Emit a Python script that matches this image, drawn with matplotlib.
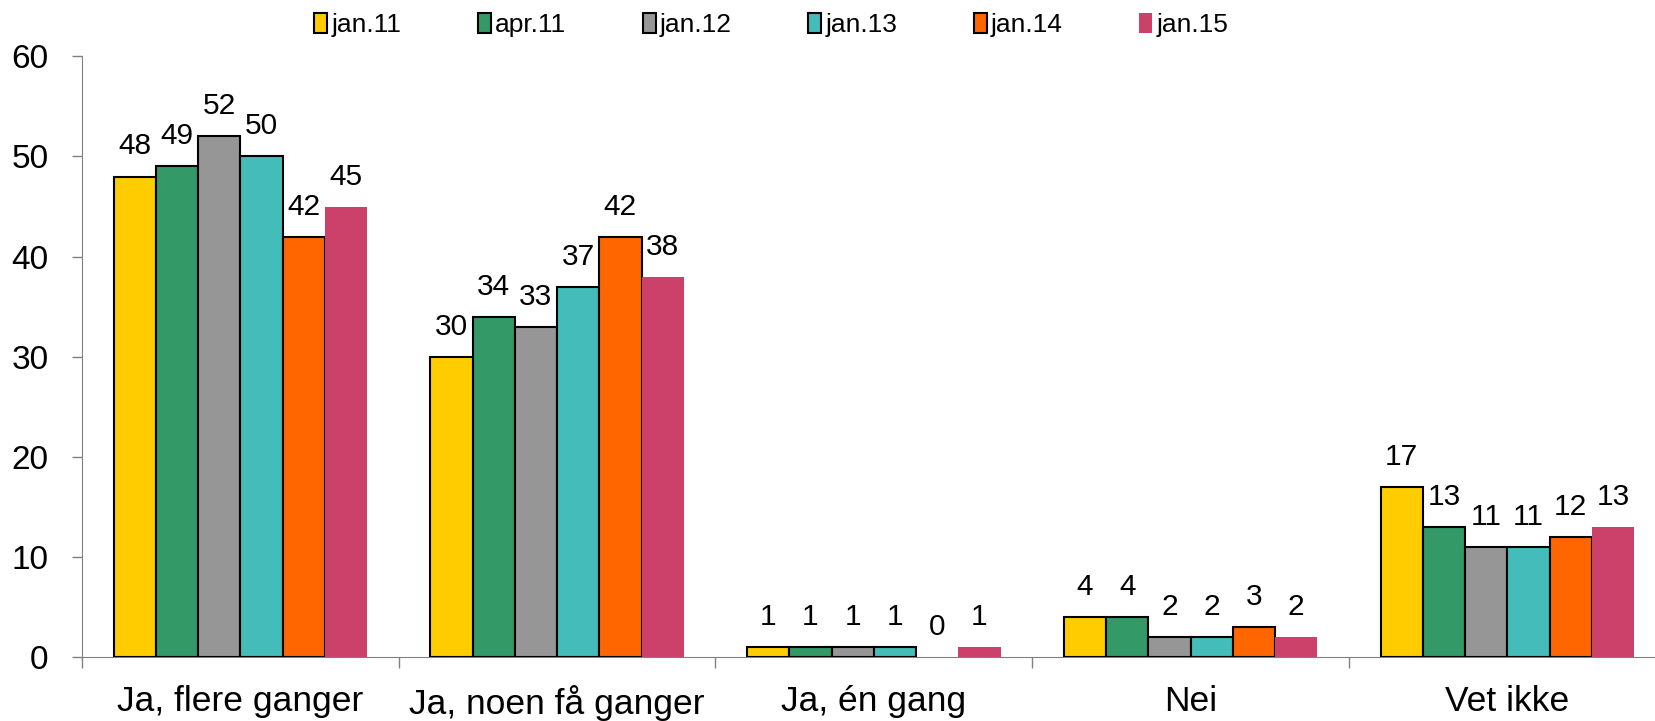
import matplotlib
matplotlib.use("Agg")
import matplotlib.pyplot as plt
import numpy as np
from matplotlib.patches import Patch

plt.rcParams['font.family'] = ['Liberation Sans', 'DejaVu Sans']

categories = ["Ja, flere ganger", "Ja, noen få ganger", "Ja, én gang", "Nei", "Vet ikke"]
series_names = ["jan.11", "apr.11", "jan.12", "jan.13", "jan.14", "jan.15"]
colors = ["#FFCC00", "#339966", "#969696", "#43BCBA", "#FF6600", "#CC4169"]
edged = [True, True, True, True, True, False]
jan11 = [48, 30, 1, 4, 17]
apr11 = [49, 34, 1, 4, 13]
jan12 = [52, 33, 1, 2, 11]
jan13 = [50, 37, 1, 2, 11]
jan14 = [42, 42, 0, 3, 12]
jan15 = [45, 38, 1, 2, 13]
values = [jan11, apr11, jan12, jan13, jan14, jan15]

fig = plt.figure(figsize=(16.55, 7.21), dpi=100)
ax = fig.add_axes([0.0495, 0.0888, 0.957, 0.833])

n = len(series_names)
w = 0.8 / n
x = np.arange(len(categories)) + 0.5
for i, (name, vals) in enumerate(zip(series_names, values)):
    pos = x - 0.4 + w * (i + 0.5)
    ecs = ['black' if (edged[i] and v > 0) else 'none' for v in vals]
    lws = [1.5 if (edged[i] and v > 0) else 0 for v in vals]
    ax.bar(pos, vals, width=w, color=colors[i], edgecolor=ecs,
           linewidth=lws, label=name, zorder=3)
    for p, v in zip(pos, vals):
        ax.text(p, v + 1.6, str(v), ha='center', va='bottom', fontsize=21.5, color='black')

ax.set_xlim(0, len(categories))
ax.set_ylim(0, 60)
ax.set_yticks(range(0, 61, 10))
ax.tick_params(axis='y', labelsize=24, length=7, color='#808080', width=1, direction='out', pad=17)
ax.set_xticks(np.arange(0, len(categories) + 1))
ax.set_xticklabels([])
ax.set_xticks(x, minor=True)
ax.set_xticklabels(categories, minor=True)
ax.tick_params(axis='x', which='major', length=8, color='#808080', width=1, direction='out')
ax.tick_params(axis='x', which='minor', length=0, labelsize=25.5, pad=20)
for s in ['top', 'right']:
    ax.spines[s].set_visible(False)
ax.spines['left'].set_color('#808080')
ax.spines['bottom'].set_color('#808080')

handles = [Patch(facecolor=colors[i], edgecolor='black' if edged[i] else colors[i],
                 linewidth=1.5 if edged[i] else 0, label=series_names[i]) for i in range(n)]
fig.legend(handles=handles, loc='upper center', bbox_to_anchor=(0.466, 1.015), ncol=n,
           frameon=False, prop={'family': ['Liberation Sans Narrow', 'Liberation Sans'], 'size': 19},
           handlelength=0.5, handleheight=0.8,
           handletextpad=0.15, columnspacing=2.9)

fig.savefig("out.png", dpi=100)
